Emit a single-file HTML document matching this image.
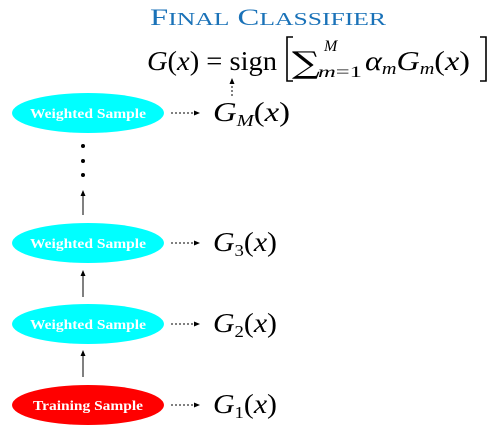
<!DOCTYPE html>
<html><head><meta charset="utf-8"><style>
body{margin:0;background:#fff}
svg{display:block}
.lab{font-family:"Liberation Serif",serif;font-style:italic;font-size:27px;fill:#000}
.sub{font-size:17px}
.up{font-style:normal}
.et{font-family:"Liberation Serif",serif;font-weight:bold;font-size:14px;fill:#fff;text-anchor:middle}
</style></head><body>
<svg width="492" height="433" viewBox="0 0 492 433">
<defs><marker id="ah" markerWidth="6" markerHeight="6" refX="5" refY="3" orient="auto"><path d="M0,0.5 L6,3 L0,5.5Z" fill="#000"/></marker></defs>
<text x="268" y="25" text-anchor="middle" fill="#1a72b8" font-family="Liberation Serif,serif" font-size="23" textLength="236" lengthAdjust="spacingAndGlyphs">F<tspan font-size="18">INAL</tspan> C<tspan font-size="18">LASSIFIER</tspan></text>
<g>
<text x="147" y="70" class="lab" textLength="130" lengthAdjust="spacingAndGlyphs">G<tspan class="up">(</tspan>x<tspan class="up">) = sign</tspan></text>
<path d="M293,37 H287 V81 H293" fill="none" stroke="#000" stroke-width="1.6"/>
<text x="292" y="73" font-family="DejaVu Serif,serif" font-size="30" fill="#000" textLength="28" lengthAdjust="spacingAndGlyphs">∑</text>
<text x="324" y="51" class="lab" style="font-size:16px">M</text>
<text x="318" y="77" class="lab" style="font-size:16px" textLength="44" lengthAdjust="spacingAndGlyphs">m<tspan class="up">=1</tspan></text>
<text x="365" y="70" class="lab" textLength="105" lengthAdjust="spacingAndGlyphs">α<tspan class="sub" dy="4">m</tspan><tspan dy="-4">G</tspan><tspan class="sub" dy="4">m</tspan><tspan class="up" dy="-4">(</tspan>x<tspan class="up">)</tspan></text>
<path d="M480,37 H486 V81 H480" fill="none" stroke="#000" stroke-width="1.6"/>
</g>
<line x1="232" y1="96" x2="232" y2="79" stroke="#000" stroke-dasharray="2,2" marker-end="url(#ah)"/>
<g>
<ellipse cx="88" cy="113" rx="76" ry="20" fill="#00ffff"/>
<text x="88" y="118" class="et" textLength="116" lengthAdjust="spacingAndGlyphs">Weighted  Sample</text>
<line x1="171" y1="113" x2="199" y2="113" stroke="#000" stroke-dasharray="2,2" marker-end="url(#ah)"/>
<text x="213" y="121" class="lab" textLength="77" lengthAdjust="spacingAndGlyphs">G<tspan class="sub" dy="5">M</tspan><tspan class="up" dy="-5">(</tspan>x<tspan class="up">)</tspan></text>
</g>
<g>
<circle cx="83" cy="146" r="2" fill="#000"/><circle cx="83" cy="161" r="2" fill="#000"/><circle cx="83" cy="175" r="2" fill="#000"/>
</g>
<line x1="83" y1="215" x2="83" y2="191" stroke="#000" marker-end="url(#ah)"/>
<g>
<ellipse cx="88" cy="243" rx="76" ry="20" fill="#00ffff"/>
<text x="88" y="248" class="et" textLength="116" lengthAdjust="spacingAndGlyphs">Weighted  Sample</text>
<line x1="171" y1="243" x2="199" y2="243" stroke="#000" stroke-dasharray="2,2" marker-end="url(#ah)"/>
<text x="213" y="251" class="lab" textLength="64" lengthAdjust="spacingAndGlyphs">G<tspan class="sub up" dy="5">3</tspan><tspan class="up" dy="-5">(</tspan>x<tspan class="up">)</tspan></text>
</g>
<line x1="83" y1="297" x2="83" y2="271" stroke="#000" marker-end="url(#ah)"/>
<g>
<ellipse cx="88" cy="324" rx="76" ry="20" fill="#00ffff"/>
<text x="88" y="329" class="et" textLength="116" lengthAdjust="spacingAndGlyphs">Weighted  Sample</text>
<line x1="171" y1="324" x2="199" y2="324" stroke="#000" stroke-dasharray="2,2" marker-end="url(#ah)"/>
<text x="213" y="332" class="lab" textLength="64" lengthAdjust="spacingAndGlyphs">G<tspan class="sub up" dy="5">2</tspan><tspan class="up" dy="-5">(</tspan>x<tspan class="up">)</tspan></text>
</g>
<line x1="83" y1="377" x2="83" y2="351" stroke="#000" marker-end="url(#ah)"/>
<g>
<ellipse cx="88" cy="405" rx="76" ry="20" fill="#ff0000"/>
<text x="88" y="410" class="et" textLength="110" lengthAdjust="spacingAndGlyphs">Training  Sample</text>
<line x1="171" y1="405" x2="199" y2="405" stroke="#000" stroke-dasharray="2,2" marker-end="url(#ah)"/>
<text x="213" y="413" class="lab" textLength="64" lengthAdjust="spacingAndGlyphs">G<tspan class="sub up" dy="5">1</tspan><tspan class="up" dy="-5">(</tspan>x<tspan class="up">)</tspan></text>
</g>
</svg>
</body></html>
